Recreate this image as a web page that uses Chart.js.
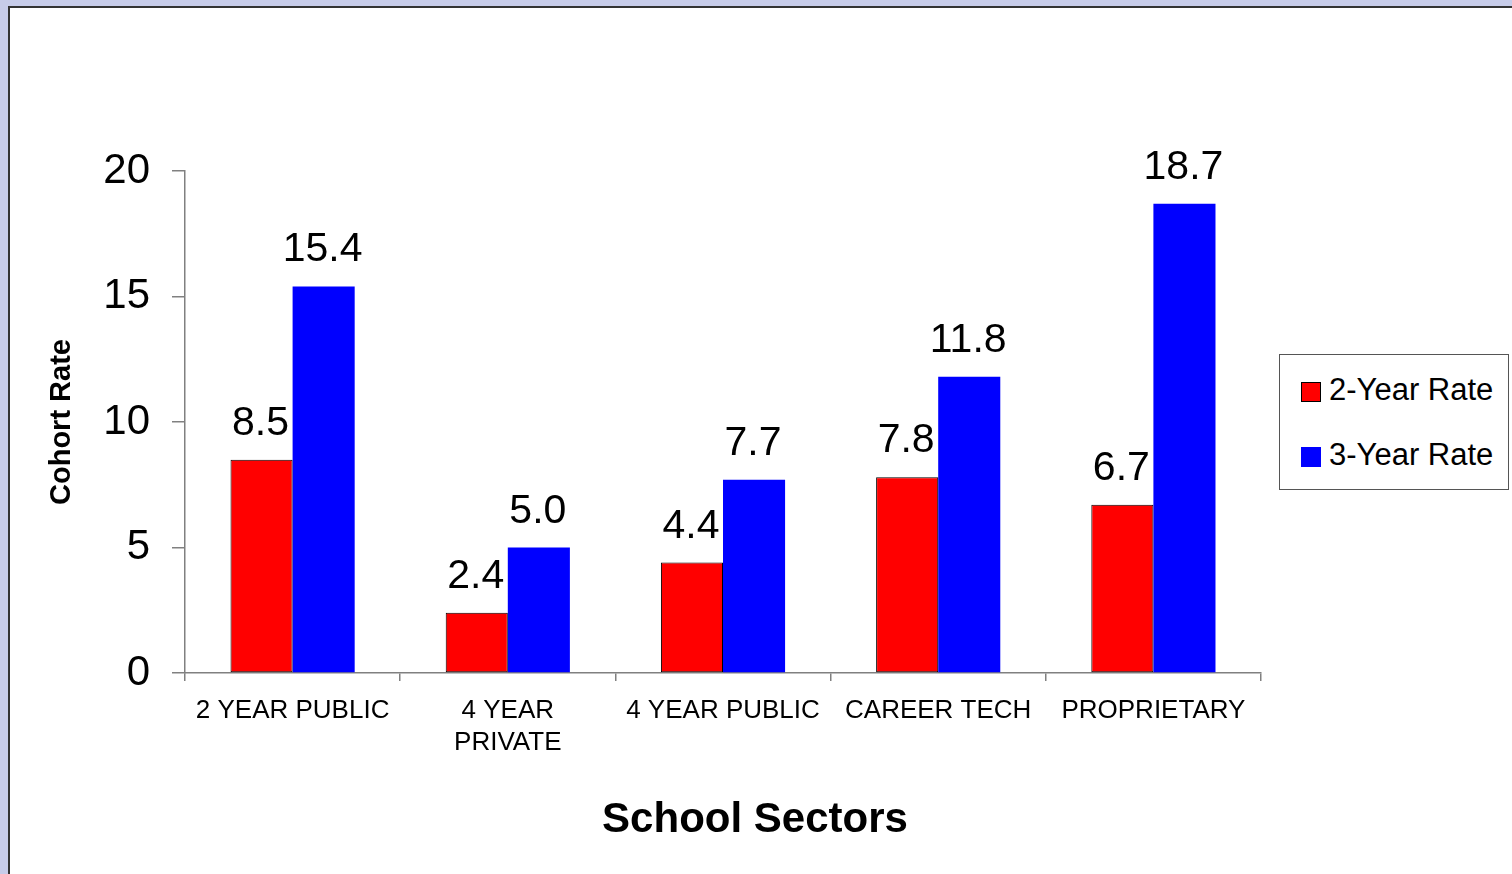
<!DOCTYPE html>
<html>
<head>
<meta charset="utf-8">
<script src="https://cdn.jsdelivr.net/npm/chart.js@4"></script>
<style>
  html, body { margin: 0; padding: 0; }
  body {
    width: 1512px; height: 874px; overflow: hidden; position: relative;
    background: #c7cce9;
    font-family: "Liberation Sans", Arial, sans-serif;
  }
  #panel {
    position: absolute; left: 8px; top: 6px; right: -10px; bottom: -10px;
    background: #fff; border: 2px solid #333;
  }
  #chart { position: absolute; left: 0; top: 0; }
  #xTitle {
    position: absolute; left: 555px; width: 400px; top: 794px;
    text-align: center; font-weight: bold; font-size: 42px; color: #000;
  }
  #legend {
    position: absolute; left: 1279px; top: 354px; width: 230px; height: 136px;
    border: 1px solid #555; background: #fff; box-sizing: border-box;
  }
  .item { position: absolute; left: 21px; font-size: 31px; line-height: 31px; color: #000; white-space: nowrap; }
  .item span.sw { display: inline-block; width: 20px; height: 20px; margin-right: 8px; vertical-align: -2px; box-sizing: border-box; }
</style>
</head>
<body>
<div id="panel"></div>
<canvas id="chart" width="1512" height="874"></canvas>
<div id="xTitle">School Sectors</div>
<div id="legend"></div>

<script>
// data
const sectors = ['2 YEAR PUBLIC', ['4 YEAR', 'PRIVATE'], '4 YEAR PUBLIC', 'CAREER TECH', 'PROPRIETARY'];
const rate2Year = [8.5, 2.4, 4.4, 7.8, 6.7];
const rate3Year = [15.4, 5.0, 7.7, 11.8, 18.7];
const yTicks = [0, 5, 10, 15, 20];

const seriesNames = ['2-Year Rate', '3-Year Rate'];
const seriesColors = ['#ff0000', '#0000ff'];

// value labels above each bar
const valueLabels = {
  id: 'valueLabels',
  afterDatasetsDraw(chart) {
    const ctx = chart.ctx;
    ctx.save();
    ctx.font = '41px "Liberation Sans", Arial, sans-serif';
    ctx.fillStyle = '#000';
    ctx.textAlign = 'center';
    ctx.textBaseline = 'alphabetic';
    chart.data.datasets.forEach((ds, i) => {
      chart.getDatasetMeta(i).data.forEach((bar, j) => {
        ctx.fillText(ds.data[j].toFixed(1), bar.x - 1, bar.y - 25);
      });
    });
    ctx.restore();
  }
};

const ctx = document.getElementById('chart').getContext('2d');
new Chart(ctx, {
  type: 'bar',
  data: {
    labels: sectors,
    datasets: [
      {
        label: seriesNames[0],
        data: rate2Year,
        backgroundColor: seriesColors[0],
        borderColor: '#000',
        borderWidth: 1,
        borderSkipped: false
      },
      {
        label: seriesNames[1],
        data: rate3Year,
        backgroundColor: seriesColors[1],
        borderWidth: 0
      }
    ]
  },
  options: {
    responsive: false,
    animation: false,
    devicePixelRatio: 1,
    categoryPercentage: 0.577,
    barPercentage: 1,
    layout: { padding: { left: 0, top: 171, right: 251, bottom: 0 } },
    plugins: {
      legend: { display: false },
      tooltip: { enabled: false }
    },
    scales: {
      x: {
        afterFit: s => { s.height = 201; },
        grid: { drawOnChartArea: false, drawTicks: true, tickLength: 8, color: '#808080', lineWidth: 1.5, offset: true },
        border: { color: '#808080', width: 1.5 },
        ticks: {
          color: '#000',
          padding: 14,
          maxRotation: 0,
          autoSkip: false,
          font: { family: '"Liberation Sans", Arial, sans-serif', size: 26, lineHeight: 1.23 }
        }
      },
      y: {
        min: 0,
        max: 20,
        afterFit: s => { s.width = 185; },
        afterBuildTicks: s => { s.ticks = yTicks.map(v => ({ value: v })); },
        grid: { drawOnChartArea: false, drawTicks: true, tickLength: 13, color: '#808080', lineWidth: 1.5 },
        border: { color: '#808080', width: 1.5 },
        ticks: {
          color: '#000',
          padding: 22,
          font: { family: '"Liberation Sans", Arial, sans-serif', size: 42 }
        },
        title: {
          display: true,
          text: 'Cohort Rate',
          color: '#000',
          padding: { top: 45, bottom: 0 },
          font: { family: '"Liberation Sans", Arial, sans-serif', size: 29, weight: 'bold' }
        }
      }
    }
  },
  plugins: [valueLabels]
});

// legend box
const legend = document.getElementById('legend');
seriesNames.forEach((name, i) => {
  const item = document.createElement('div');
  item.className = 'item';
  item.style.top = (i === 0 ? 19 : 84) + 'px';
  const sw = document.createElement('span');
  sw.className = 'sw';
  sw.style.background = seriesColors[i];
  if (i === 0) sw.style.border = '1.5px solid #000';
  item.appendChild(sw);
  item.appendChild(document.createTextNode(name));
  legend.appendChild(item);
});
</script>
</body>
</html>
